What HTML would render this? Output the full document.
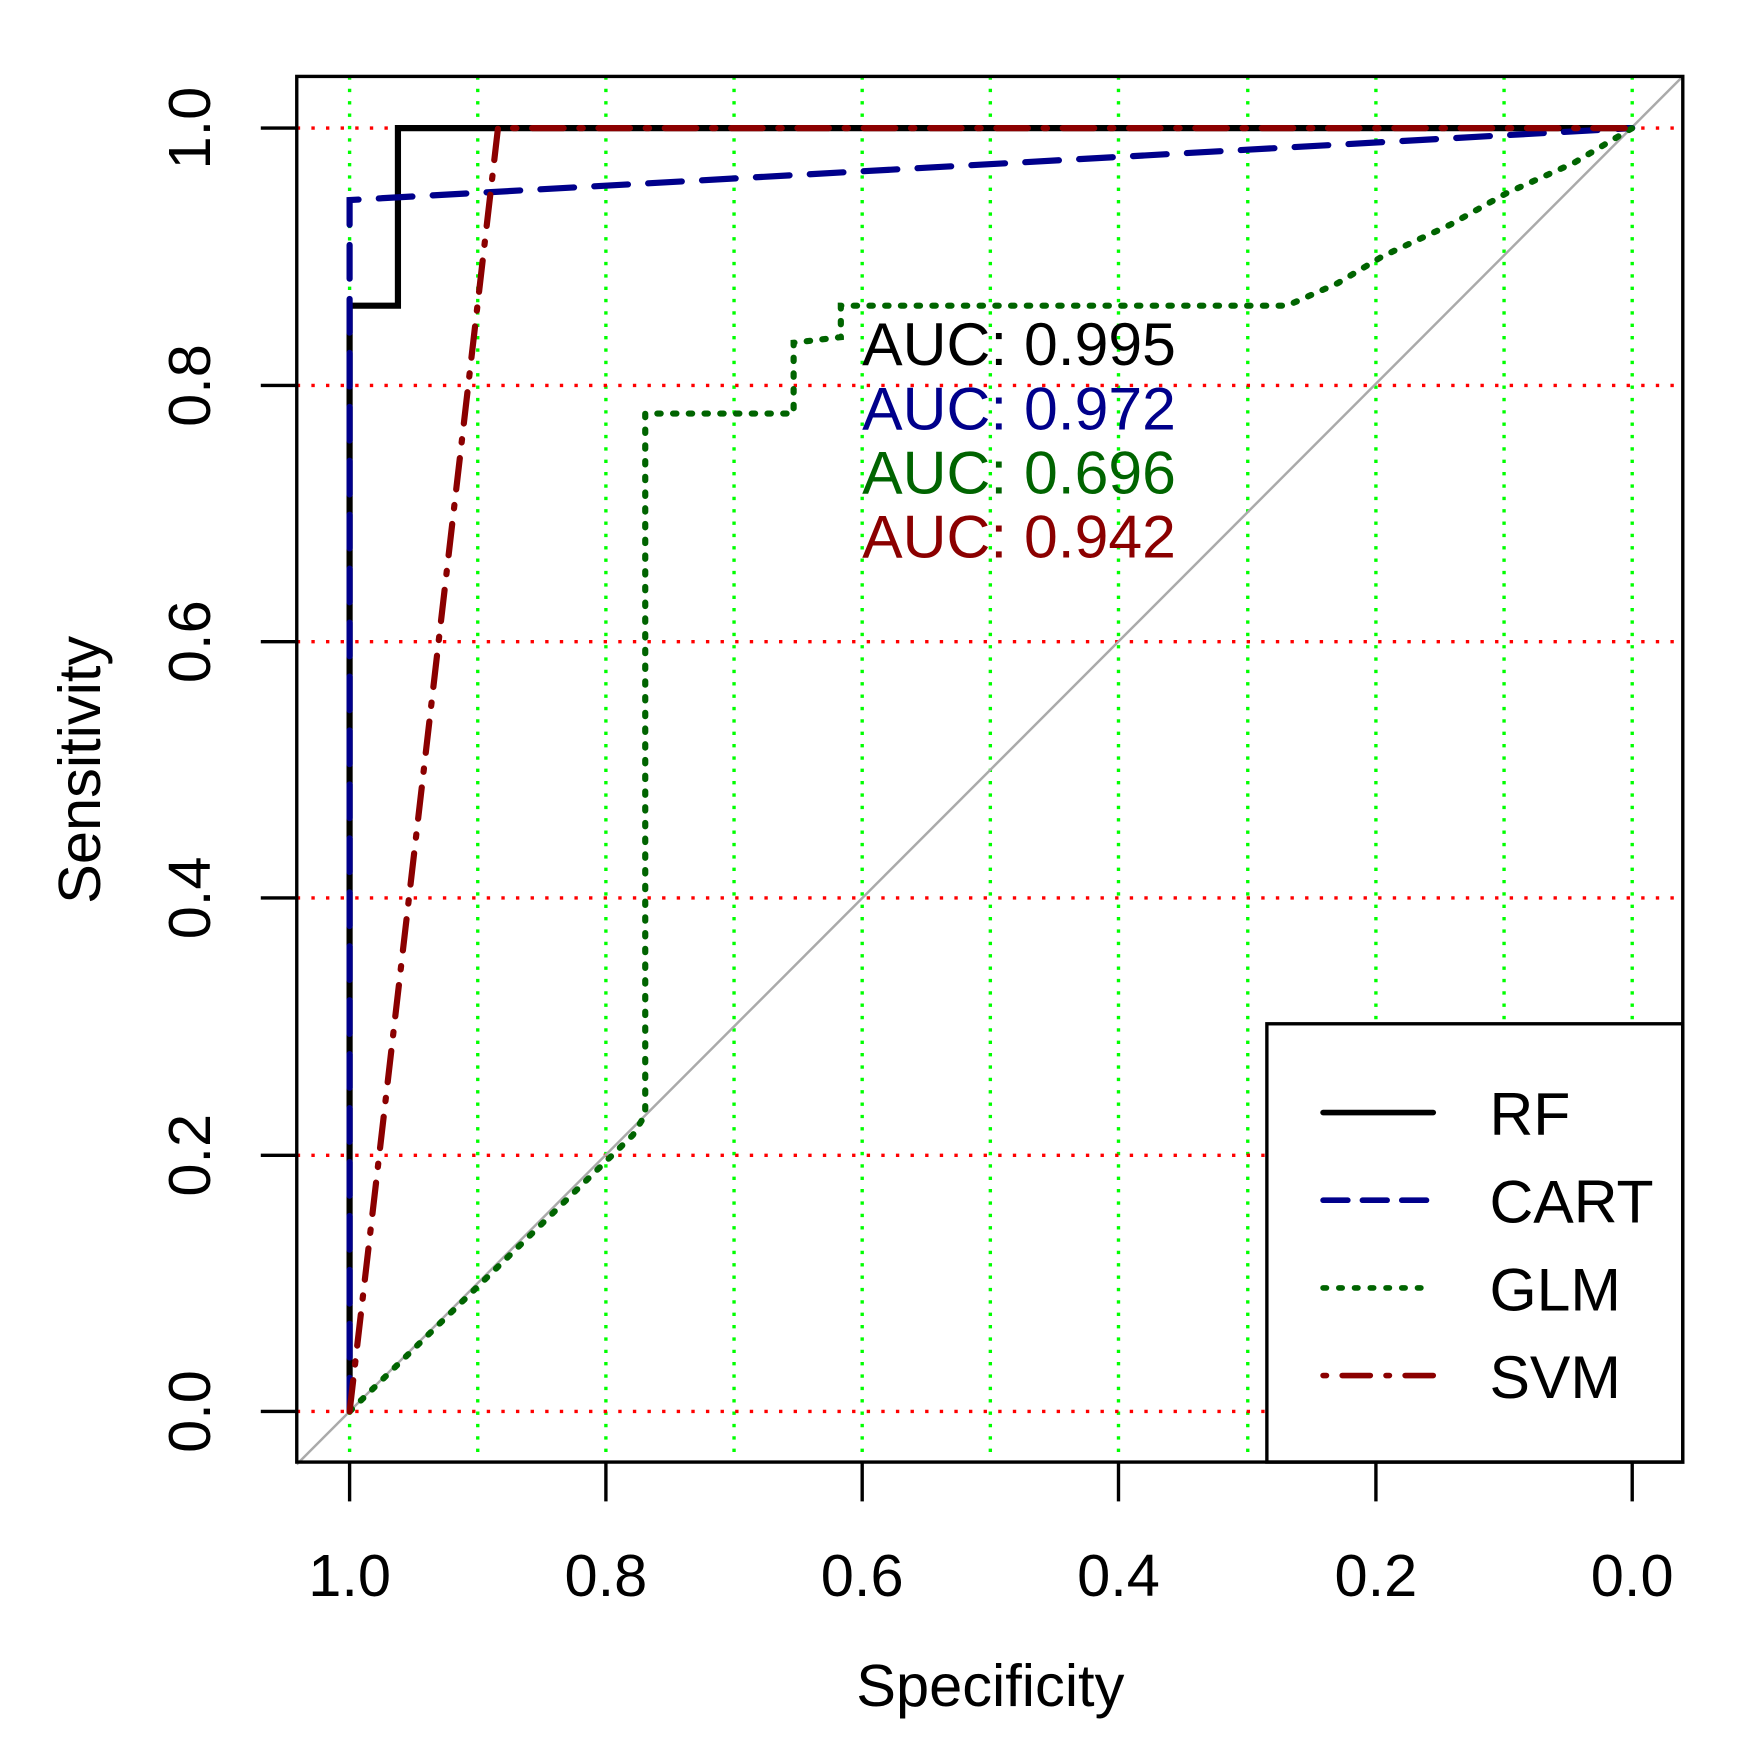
<!DOCTYPE html>
<html><head><style>html,body{margin:0;padding:0;background:#fff}svg{display:block}</style></head>
<body>
<svg width="1739" height="1761" viewBox="0 0 1547 1567" preserveAspectRatio="none" xmlns="http://www.w3.org/2000/svg" font-family="Liberation Sans, Arial, sans-serif">
<rect width="1547" height="1567" fill="#fff"/>
<g stroke="#00ff00" stroke-width="3" stroke-dasharray="3 8" fill="none">
<line x1="311" y1="68" x2="311" y2="1301"/><line x1="425" y1="68" x2="425" y2="1301"/><line x1="539" y1="68" x2="539" y2="1301"/><line x1="653" y1="68" x2="653" y2="1301"/><line x1="767" y1="68" x2="767" y2="1301"/><line x1="881" y1="68" x2="881" y2="1301"/><line x1="995" y1="68" x2="995" y2="1301"/><line x1="1110" y1="68" x2="1110" y2="1301"/><line x1="1224" y1="68" x2="1224" y2="1301"/><line x1="1338" y1="68" x2="1338" y2="1301"/><line x1="1452" y1="68" x2="1452" y2="1301"/>
</g>
<g stroke="#ff0000" stroke-width="3" stroke-dasharray="3 10" fill="none">
<line x1="264" y1="114" x2="1497" y2="114"/><line x1="264" y1="343" x2="1497" y2="343"/><line x1="264" y1="571" x2="1497" y2="571"/><line x1="264" y1="799" x2="1497" y2="799"/><line x1="264" y1="1028" x2="1497" y2="1028"/><line x1="264" y1="1256" x2="1497" y2="1256"/>
</g>
<line x1="264" y1="1303" x2="1497" y2="68" stroke="#aaaaaa" stroke-width="2.2"/>
<g fill="none" stroke-width="5.5" stroke-linecap="round">
<polyline stroke="#000" stroke-linecap="butt" points="311,1256 311,272 354,272 354,114 1452,114"/>
<polyline stroke="#00008B" stroke-dasharray="30 18" points="311,1256 311,178 1452,114"/>
<polyline stroke="#006400" stroke-dasharray="3 11" points="311,1256 563,1010 574,992 574,368 706,368 706,305 748,300 748,272 1145,272 1190,252 1230,228 1290,200 1340,172 1400,145 1452,114"/>
<polyline stroke="#8B0000" stroke-dasharray="28 14 3 14" points="311,1256 443,114 1452,114"/>
</g>
<rect x="1127" y="911" width="370" height="390" fill="#fff" stroke="#000" stroke-width="3"/>
<rect x="264" y="68" width="1233" height="1233" fill="none" stroke="#000" stroke-width="3"/>
<g stroke-width="5" fill="none" stroke-linecap="round">
<line x1="1177" y1="990" x2="1275" y2="990" stroke="#000"/>
<line x1="1177" y1="1068" x2="1275" y2="1068" stroke="#00008B" stroke-dasharray="22 13"/>
<line x1="1177" y1="1146" x2="1275" y2="1146" stroke="#006400" stroke-dasharray="3 11"/>
<line x1="1177" y1="1224" x2="1275" y2="1224" stroke="#8B0000" stroke-dasharray="3 14 25 14"/>
</g>
<g font-size="54" fill="#000">
<text x="1325" y="1010">RF</text><text x="1325" y="1088">CART</text><text x="1325" y="1166">GLM</text><text x="1325" y="1244">SVM</text>
</g>
<g font-size="54">
<text x="767" y="325" fill="#000">AUC: 0.995</text>
<text x="767" y="382" fill="#00008B">AUC: 0.972</text>
<text x="767" y="439" fill="#006400">AUC: 0.696</text>
<text x="767" y="496" fill="#8B0000">AUC: 0.942</text>
</g>
<g stroke="#000" stroke-width="3">
<line x1="311" y1="1301" x2="311" y2="1336"/><line x1="539" y1="1301" x2="539" y2="1336"/><line x1="767" y1="1301" x2="767" y2="1336"/><line x1="995" y1="1301" x2="995" y2="1336"/><line x1="1224" y1="1301" x2="1224" y2="1336"/><line x1="1452" y1="1301" x2="1452" y2="1336"/>
<line x1="232" y1="114" x2="264" y2="114"/><line x1="232" y1="343" x2="264" y2="343"/><line x1="232" y1="571" x2="264" y2="571"/><line x1="232" y1="799" x2="264" y2="799"/><line x1="232" y1="1028" x2="264" y2="1028"/><line x1="232" y1="1256" x2="264" y2="1256"/>
</g>
<g font-size="53" text-anchor="middle" fill="#000">
<text x="311" y="1420">1.0</text><text x="539" y="1420">0.8</text><text x="767" y="1420">0.6</text><text x="995" y="1420">0.4</text><text x="1224" y="1420">0.2</text><text x="1452" y="1420">0.0</text>
<text transform="translate(187,114) rotate(-90)">1.0</text>
<text transform="translate(187,343) rotate(-90)">0.8</text>
<text transform="translate(187,571) rotate(-90)">0.6</text>
<text transform="translate(187,799) rotate(-90)">0.4</text>
<text transform="translate(187,1028) rotate(-90)">0.2</text>
<text transform="translate(187,1256) rotate(-90)">0.0</text>
<text x="881" y="1518">Specificity</text>
<text transform="translate(89,685) rotate(-90)">Sensitivity</text>
</g>
</svg>
</body></html>
